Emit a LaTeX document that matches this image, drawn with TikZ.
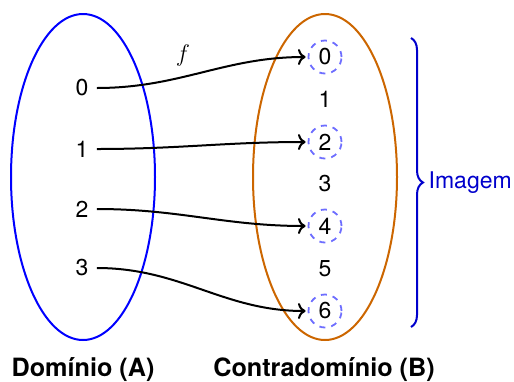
\documentclass[tikz,border=0pt]{standalone}
\usepackage{fontspec}
\setmainfont{TeX Gyre Heros}
\usepackage{amsmath}
\usetikzlibrary{
	arrows.meta,
	decorations.pathreplacing,
	positioning
}
\definecolor{DomBlue}{RGB}{0,0,255}
\definecolor{CodOrange}{RGB}{204,102,0}
\definecolor{ImgBlue}{RGB}{0,0,204}
\definecolor{CircBlue}{RGB}{110,110,255}

\begin{document}
\begin{tikzpicture}[x=0.5pt, y=-0.5pt,
		every node/.style={font=\fontsize{11.5}{13}\selectfont},
		elem/.style={inner sep=4pt},
		imgelem/.style={circle, draw=CircBlue, dashed, line width=0.9pt, minimum size=16.5pt, inner sep=0pt},
		maparrow/.style={->, line width=1pt, shorten >=1pt},
		setlabel/.style={font=\fontsize{12.6}{14}\selectfont\bfseries, anchor=base}]
		\useasboundingbox (0,0) rectangle (514,381);
		% the two sets
		\draw[DomBlue, line width=1pt] (83,177) ellipse (72 and 163);
		\draw[CodOrange, line width=1pt] (325,177) ellipse (72 and 163);
		% domain A
		\node[elem] (a0) at (82,88) {0};
		\node[elem] (a1) at (82,149) {1};
		\node[elem] (a2) at (82,209) {2};
		\node[elem] (a3) at (82,268) {3};
		% codomain B
		\node[imgelem] (b0) at (325,57) {0};
		\node[elem] (b1) at (325,99) {1};
		\node[imgelem] (b2) at (325,142) {2};
		\node[elem] (b3) at (325,184) {3};
		\node[imgelem] (b4) at (325,226) {4};
		\node[elem] (b5) at (325,269) {5};
		\node[imgelem] (b6) at (325,311) {6};
		% the map f
		\draw[maparrow] (a0.east) to[out=0, in=180] (b0);
		\draw[maparrow] (a1.east) to[out=0, in=180] (b2);
		\draw[maparrow] (a2.east) to[out=0, in=180] (b4);
		\draw[maparrow] (a3.east) to[out=0, in=180] (b6);
		\node (f) at (183,55) {$f$};
		% image
		\coordinate (brTop) at (411,38);
		\coordinate (brBot) at (411,327);
		\draw[ImgBlue, line width=1pt, decorate, decoration={brace, amplitude=6pt}] (brTop) -- (brBot)
			node[midway, right=5pt, text=ImgBlue] (img) {Imagem};
		% set names
		\node[setlabel] (setA) at (83,376) {Domínio (A)};
		\node[setlabel] (setB) at (324,376) {Contradomínio (B)};
	\end{tikzpicture}
\end{document}
